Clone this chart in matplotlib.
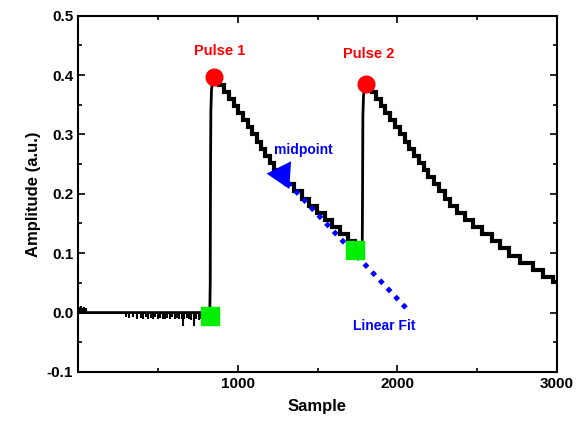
import numpy as np
import matplotlib.pyplot as plt
from matplotlib.ticker import MultipleLocator, FixedLocator

plt.rcParams['font.family'] = ['Liberation Sans', 'DejaVu Sans']
plt.rcParams['font.weight'] = 'bold'
plt.rcParams['axes.unicode_minus'] = False

# baseline before pulse 1 and its small noise spikes
base_x = [0, 815]
base_y = [0.0, 0.0]
spike_x = [8, 18, 28, 40, 52,
           300, 318, 345, 372, 395, 410, 425, 440, 455, 470, 485, 500, 515,
           530, 545, 560, 575, 590, 605, 620, 635, 650, 656, 665, 680, 695,
           710, 725, 740, 755, 770, 785, 800]
spike_y = [0.009, 0.011, 0.008, 0.01, 0.007,
           -0.008, -0.009, -0.008, -0.01, -0.009, -0.01, -0.008, -0.01, -0.009,
           -0.01, -0.008, -0.01, -0.009, -0.01, -0.01, -0.009, -0.01, -0.008,
           -0.01, -0.009, -0.01, -0.01, -0.022, -0.01, -0.009, -0.01, -0.012,
           -0.022, -0.01, -0.012, -0.01, -0.008, -0.006]

# pulse 1 rising edge
rise1_x = [815, 825, 828, 830, 832, 836, 842, 850]
rise1_y = [0.0, -0.004, 0.05, 0.25, 0.34, 0.375, 0.39, 0.397]

# pulse 1 decay (quantised steps: start sample, level)
dec1_x = [850, 880, 915, 945, 975, 1005, 1035, 1062, 1090, 1118, 1145, 1172,
          1200, 1230, 1262, 1300, 1350, 1400, 1448, 1495, 1545, 1592, 1640,
          1688, 1735]
dec1_y = [0.396, 0.384, 0.372, 0.360, 0.348, 0.336, 0.324, 0.312, 0.300,
          0.288, 0.276, 0.264, 0.252, 0.240, 0.228, 0.216, 0.204, 0.192,
          0.180, 0.168, 0.156, 0.144, 0.132, 0.120, 0.108]

# pulse 2 rising edge
rise2_x = [1780, 1782, 1784, 1788, 1795, 1806]
rise2_y = [0.108, 0.2, 0.33, 0.365, 0.378, 0.385]

# pulse 2 decay
dec2_x = [1806, 1840, 1868, 1896, 1925, 1955, 1985, 2015, 2045, 2075, 2105,
          2135, 2165, 2195, 2228, 2262, 2296, 2330, 2375, 2425, 2475, 2530,
          2590, 2645, 2700, 2770, 2850, 2910, 2975]
dec2_y = [0.384, 0.372, 0.360, 0.348, 0.336, 0.324, 0.312, 0.300, 0.288,
          0.276, 0.264, 0.252, 0.240, 0.228, 0.216, 0.204, 0.192, 0.180,
          0.168, 0.156, 0.144, 0.132, 0.120, 0.108, 0.096, 0.084, 0.072,
          0.060, 0.052]
x_end = 3000

peaks_x = [850, 1806]
peaks_y = [0.397, 0.385]
feet_x = [825, 1737]
feet_y = [-0.005, 0.105]

fit_x = [1312, 2064]
fit_y = [0.219, 0.005]
arrow_tail = (1295, 0.232)
arrow_tip = (1181, 0.234)


def stairs(xs, ys, xend):
    vx, vy = [], []
    edges = list(xs[1:]) + [xend]
    for x0, x1, y in zip(xs, edges, ys):
        vx += [x0, x1]
        vy += [y, y]
    return vx, vy


d1x, d1y = stairs(dec1_x, dec1_y, rise2_x[0])
d2x, d2y = stairs(dec2_x, dec2_y, x_end)

fig = plt.figure(figsize=(5.78, 4.23), dpi=100)
ax = fig.add_axes([0.135, 0.1206, 0.8287, 0.8425])

ax.vlines(spike_x, 0, spike_y, color='black', lw=1.5)
ax.plot(base_x + rise1_x, base_y + rise1_y, color='black', lw=2)
ax.plot(d1x + rise2_x[:1], d1y + rise2_y[:1], color='black', lw=3,
        solid_joinstyle='miter')
ax.plot(rise2_x, rise2_y, color='black', lw=2)
ax.plot(d2x, d2y, color='black', lw=3, solid_joinstyle='miter')
ax.plot(fit_x, fit_y, color='blue', lw=3.5, linestyle=(0, (1, 1.3)))
ax.annotate('', xy=arrow_tip, xytext=arrow_tail,
            arrowprops=dict(arrowstyle='-|>,head_length=0.85,head_width=0.5',
                            color='blue', lw=0, mutation_scale=20,
                            shrinkA=0, shrinkB=0))
ax.plot(peaks_x, peaks_y, 'o', color='red', ms=12, mec='red')
ax.plot(feet_x, feet_y, 's', color='#00ee00', ms=13, mec='#00ee00')

ax.text(887, 0.44, 'Pulse 1', color='red', fontsize=10.5, ha='center', va='center')
ax.text(1819, 0.436, 'Pulse 2', color='red', fontsize=10.5, ha='center', va='center')
ax.text(1412, 0.274, 'midpoint', color='blue', fontsize=10, ha='center', va='center')
ax.text(1919, -0.022, 'Linear Fit', color='blue', fontsize=10, ha='center', va='center')

ax.set_xlim(0, 3000)
ax.set_ylim(-0.1, 0.5)
ax.xaxis.set_major_locator(FixedLocator([1000, 2000, 3000]))
ax.xaxis.set_minor_locator(MultipleLocator(500))
ax.yaxis.set_major_locator(MultipleLocator(0.1))
ax.yaxis.set_minor_locator(MultipleLocator(0.05))
ax.tick_params(which='both', direction='in', top=True, right=True,
               labelsize=11, width=1.2)
ax.tick_params(which='major', length=5)
ax.tick_params(which='minor', length=3)
for s in ax.spines.values():
    s.set_linewidth(1.5)

ax.set_xlabel('Sample', fontsize=12, fontweight='bold', labelpad=6)
ax.set_ylabel('Amplitude (a.u.)', fontsize=12, fontweight='bold', labelpad=4)

fig.savefig('out.png', dpi=100)
